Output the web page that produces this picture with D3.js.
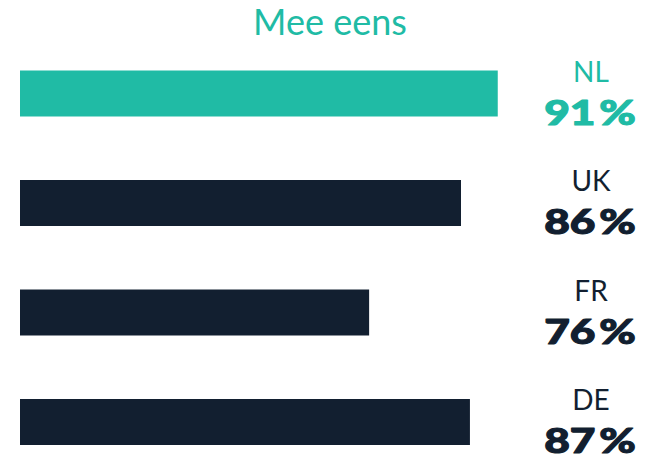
<!DOCTYPE html>
<html><head><meta charset="utf-8">
<script src="https://cdn.jsdelivr.net/npm/d3@7"></script>
<style>html,body{margin:0;padding:0;background:#fff;}svg{display:block;}</style>
</head><body>
<svg id="chart" width="651" height="462"></svg>
<script>
const title = "Mee eens";
const countries = ["NL", "UK", "FR", "DE"];
const percentLabels = [91, 86, 76, 87];
// bar lengths (same 0–100 scale)
const barValues = [91, 84, 66.5, 85.7];
const highlight = "NL";

const teal = "#20bba5", navy = "#121f30";
const svg = d3.select("#chart");

const x = d3.scaleLinear().domain([0, 100]).range([20, 545]);
const y = d3.scaleBand().domain(countries).range([70.5, 445]).paddingInner(0.58).paddingOuter(0);

svg.append("text").attr("x", 330).attr("y", 35)
  .attr("text-anchor", "middle").attr("fill", teal)
  .attr("font-family", "Lato, sans-serif").attr("font-size", 36)
  .text(title);

const rows = countries.map((c, i) => ({c, v: barValues[i], p: percentLabels[i]}));
const g = svg.selectAll("g.row").data(rows).enter().append("g");

g.append("rect")
  .attr("x", x(0)).attr("y", d => y(d.c))
  .attr("width", d => x(d.v) - x(0)).attr("height", y.bandwidth())
  .attr("fill", d => d.c === highlight ? teal : navy);

g.append("text")
  .attr("x", 591).attr("y", d => y(d.c) + 11)
  .attr("text-anchor", "middle")
  .attr("fill", d => d.c === highlight ? teal : navy)
  .attr("font-family", "Lato, sans-serif").attr("font-size", 28)
  .text(d => d.c);

const pt = g.append("text")
  .attr("transform", d => `translate(590,${y(d.c) + 54}) scale(1.3,1)`)
  .attr("text-anchor", "middle")
  .attr("fill", d => d.c === highlight ? teal : navy)
  .attr("stroke", d => d.c === highlight ? teal : navy).attr("stroke-width", 1.1)
  .attr("stroke-linejoin", "round")
  .attr("font-family", "Lato, sans-serif").attr("font-weight", 900).attr("font-size", 34);
pt.append("tspan").text(d => d.p);
pt.append("tspan").attr("dx", 3).text("%");
</script>
</body></html>
